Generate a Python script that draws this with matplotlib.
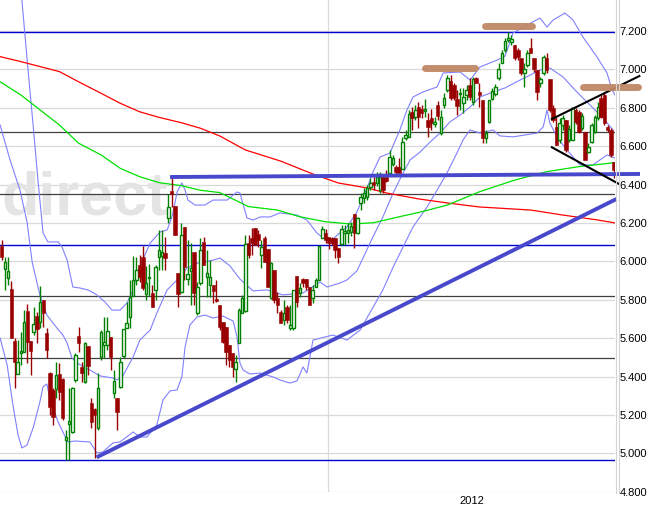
import matplotlib
matplotlib.use("Agg")
import matplotlib.pyplot as plt
from matplotlib.patches import Rectangle
from matplotlib.lines import Line2D

# ---------------- data (index points, DAX daily) ----------------
opens = [6080,5960,5913,5856,5585,5413,5523,5528,5741,5585,
5632,5715,5684,5799,5627,5418,5330,5335,5413,5387,
5069,5153,5111,5382,5611,5450,5372,5559,5262,5231,
5132,5502,5564,5564,5606,5314,5288,5346,5507,5653,
5710,5819,5903,5981,6023,5830,5913,5835,5851,6023,
6028,6043,6226,6366,6288,5939,5840,6179,5908,5950,
6049,5731,5887,6101,5918,5877,5877,5804,5773,5684,
5658,5564,5523,5439,5575,5731,5741,6095,6122,6174,
6142,6033,6122,6064,5809,5955,5809,5736,5694,5762,
5653,5653,5924,5835,5908,5908,5866,5809,5866,5903,
6122,6148,6127,6122,6122,6069,6090,6148,6148,6153,
6246,6148,6304,6330,6335,6387,6413,6408,6371,6439,
6439,6460,6507,6491,6491,6481,6642,6648,6778,6752,
6804,6793,6783,6736,6746,6715,6814,6668,6814,6892,
6939,6918,6845,6871,6825,6866,6918,6830,6955,6882,
6840,6642,6726,6845,6871,6955,7033,7100,7153,7142,
7127,7100,7059,6981,7022,7111,7059,6996,6929,6981,
7059,6950,6799,6700,6632,6710,6736,6632,6632,6788,
6778,6694,6674,6569,6621,6674,6746,6851,6866,6700,
6684,6517]

closes = [6023,5996,5950,5601,5476,5476,5533,5684,5580,5533,
5674,5648,5788,5731,5538,5241,5189,5408,5320,5184,
5085,5168,5340,5512,5575,5418,5575,5455,5163,5200,
5340,5632,5580,5637,5502,5377,5215,5476,5648,5679,
5814,5903,5955,5918,5861,5887,5918,5762,5970,6059,
6049,6017,6283,6351,6137,5830,6137,5970,5934,5965,
5835,5866,6059,5981,5939,5918,5846,5793,5658,5580,
5528,5486,5450,5476,5746,5809,6090,6033,6095,6085,
6111,6075,5996,5866,5991,5799,5773,5679,5731,5694,
5668,5851,5788,5861,5887,5866,5773,5851,5903,6080,
6168,6111,6095,6095,6059,6023,6168,6158,6163,6184,
6148,6226,6335,6356,6382,6408,6398,6439,6439,6371,
6418,6543,6538,6465,6460,6621,6658,6767,6746,6788,
6752,6772,6793,6700,6720,6726,6757,6752,6851,6955,
6851,6851,6809,6877,6856,6892,6856,6950,6929,6866,
6642,6668,6840,6887,6908,7002,7085,7147,7163,7158,
7059,7064,6981,7002,7085,7085,7002,6882,6950,7064,
6996,6788,6736,6606,6720,6746,6580,6689,6799,6726,
6674,6757,6528,6595,6710,6752,6804,6752,6720,6684,
6554,6476]

highs = [6111,6023,6023,5898,5601,5590,5632,5746,5778,5585,
5762,5736,5871,5799,5653,5424,5340,5476,5470,5392,
5122,5340,5346,5523,5658,5476,5580,5559,5288,5236,
5418,5642,5710,5710,5606,5434,5288,5502,5648,5788,
5903,6028,6023,6033,6080,5976,5986,5877,5981,6163,
6163,6127,6351,6439,6288,5939,6200,6179,6111,6095,
6049,5892,6122,6127,6059,6007,5877,5903,5773,5684,
5658,5564,5523,5512,5757,5825,6137,6137,6174,6174,
6163,6111,6132,6064,5996,5955,5840,5746,5799,5773,
5773,5851,5924,5887,5913,5908,5866,5877,5913,6080,
6184,6168,6127,6127,6122,6069,6189,6189,6200,6205,
6246,6231,6356,6382,6398,6434,6439,6465,6465,6450,
6476,6580,6554,6501,6538,6648,6684,6788,6804,6814,
6830,6814,6845,6772,6793,6752,6835,6788,6877,6970,
6970,6929,6892,6903,6903,6918,6955,6960,6960,6929,
6840,6684,6840,6903,6924,7033,7100,7163,7194,7179,
7127,7111,7059,7033,7100,7163,7059,6996,6960,7075,
7085,6950,6814,6752,6746,6762,6736,6710,6804,6799,
6788,6772,6674,6616,6720,6762,6830,6866,6877,6710,
6694,6517]

lows = [6007,5851,5877,5601,5340,5413,5460,5528,5470,5408,
5616,5575,5653,5658,5497,5200,5148,5288,5278,5174,
4965,4966,5106,5372,5528,5372,5366,5408,5132,4976,
5122,5486,5497,5538,5434,5288,5122,5340,5497,5653,
5653,5819,5877,5892,5851,5799,5819,5762,5799,5955,
5955,5955,6200,6283,6137,5762,5835,5903,5877,5773,
5773,5720,5877,5981,5814,5814,5783,5788,5642,5575,
5460,5450,5398,5372,5575,5731,5736,6017,6033,6085,
6075,5965,5996,5866,5804,5783,5731,5679,5668,5679,
5642,5642,5762,5814,5866,5851,5773,5783,5866,5903,
6122,6095,6064,6085,6017,5991,6085,6085,6095,6132,
6069,6142,6267,6304,6319,6371,6371,6392,6356,6356,
6413,6460,6496,6450,6460,6481,6632,6648,6684,6736,
6694,6746,6752,6648,6684,6700,6736,6658,6799,6882,
6840,6840,6762,6788,6772,6840,6840,6814,6929,6804,
6616,6616,6720,6840,6861,6944,7033,7090,7142,7127,
7048,7048,6970,6908,7012,7085,6986,6840,6908,6970,
6981,6778,6726,6606,6616,6684,6569,6621,6632,6715,
6668,6684,6528,6564,6616,6668,6736,6746,6710,6674,
6543,6434]

# moving averages (read at sample positions: candle index, value)
ma200_i = [-0.5, 6, 12, 18, 24, 31, 37, 43, 49, 56, 62, 68, 76, 87, 97, 105, 114, 120, 130, 139, 149, 165, 175, 186, 191.3]
ma200_v = [7066, 7040, 7014, 6988, 6935, 6875, 6823, 6779, 6750, 6722, 6693, 6653, 6580, 6522, 6455, 6408, 6382, 6356, 6325, 6304, 6283, 6267, 6241, 6215, 6200]

ma100_i = [-0.5, 6, 12, 18, 24, 31, 37, 43, 49, 56, 62, 68, 77, 86, 93, 101, 109, 116, 124, 131, 139, 149, 160, 170, 180, 191.3]
ma100_v = [6935, 6866, 6788, 6710, 6615, 6554, 6484, 6441, 6410, 6394, 6370, 6358, 6285, 6267, 6232, 6206, 6194, 6201, 6232, 6258, 6293, 6362, 6423, 6467, 6493, 6514]

# Bollinger bands
bb_up_i = [-0.5, 6.3, 7.2, 8.5, 9.8, 11.3, 12.9, 14.4, 17.6, 18.8, 20.4, 22.2, 24.4, 26.9, 29.7, 32.2, 34.4, 36.9, 39.1,
           41.0, 42.2, 46.3, 49.4, 51.6, 53.1, 54.1, 54.7, 56.2, 57.2, 58.1, 60.3, 63.4, 65.9, 70.3, 73.4, 74.3, 76.5,
           78.4, 80.6, 83.7, 86.8, 92.1, 95.2, 98.3, 100.2, 103.0, 105.5, 107.7, 110.8, 114.0, 115.8, 118.0, 121.1,
           124.2, 126.4, 128.3, 131.4, 135.8, 137.7, 143.0, 146.1, 149.2, 154.5, 157.0, 159.5, 163.9, 167.9, 170.1,
           172.0, 175.7, 178.2, 181.3, 185.7, 188.8, 190.4, 191.3]
bb_up_v = [8650, 7361, 7189, 6944, 6710, 6424, 6148, 6101, 6101, 6075, 6007, 5866, 5861, 5851, 5825, 5788, 5746, 5746, 5783,
           5851, 5939, 6095, 6153, 6163, 6231, 6309, 6361, 6408, 6371, 6319, 6293, 6293, 6319, 6319, 6361, 6356, 6226,
           6215, 6231, 6231, 6252, 6241, 6215, 6148, 6122, 6111, 6148, 6179, 6257, 6382, 6465, 6543, 6564,
           6684, 6788, 6856, 6882, 6908, 6981, 6986, 6944, 7012, 7048, 7069, 7189, 7231, 7267, 7220,
           7257, 7293, 7257, 7168, 7064, 6981, 6892, 6866]

bb_mid_i = [-0.5, 2.6, 5.7, 7.9, 9.5, 11.9, 14.1, 17.2, 19.1, 20.4, 21.9, 23.5, 27.5, 30.7, 34.7, 36.0, 37.8, 41.0, 43.1,
            46.3, 48.4, 51.6, 55.6, 57.8, 61.9, 65.0, 68.1, 71.2, 74.3, 78.4, 82.8, 87.7, 94.0, 99.3, 101.5, 105.5,
            107.7, 110.8, 115.8, 118.9, 122.1, 125.2, 127.4, 130.5, 133.6, 136.7, 139.8, 143.0, 146.1, 149.2, 153.3,
            157.0, 161.7, 167.9, 171.0, 175.1, 179.4, 183.5, 187.6, 190.7]
bb_mid_v = [6710, 6528, 6371, 6205, 5996, 5825, 5720, 5653, 5616, 5575, 5497, 5470, 5434, 5403, 5392, 5382, 5403, 5502, 5590,
            5642, 5731, 5851, 5918, 5965, 5996, 6002, 6017, 5976, 5908, 5846, 5851, 5825, 5835, 5892, 5866, 5887,
            5903, 5950, 6127, 6231, 6356, 6460, 6528, 6569, 6621, 6668, 6726, 6762, 6804, 6856, 6882,
            6903, 6944, 6996, 7007, 6960, 6882, 6814, 6746, 6684]

bb_low_i = [-0.5, 1.7, 3.5, 5.1, 6.3, 7.9, 9.8, 11.9, 12.9, 14.1, 15.1, 17.6, 19.7, 20.7, 22.9, 27.5, 29.7, 31.6, 34.7,
            36.9, 41.0, 43.1, 45.3, 48.4, 50.3, 52.5, 54.7, 56.2, 57.2, 58.7, 60.9, 63.4, 65.9, 69.0, 72.2, 73.4, 74.3,
            75.3, 77.4, 80.6, 84.6, 86.8, 89.9, 92.1, 94.0, 95.2, 97.1, 103.3, 107.7, 111.8, 118.9, 122.1, 125.2,
            128.3, 132.7, 135.8, 138.9, 142.0, 143.9, 146.1, 149.2, 153.3, 155.4, 159.5, 167.0, 168.9, 170.1, 171.0,
            173.2, 176.3, 180.4, 184.4, 188.8, 191.3]
bb_low_v = [5601, 5460, 5252, 5095, 5028, 5043, 5132, 5267, 5346, 5361, 5278, 5163, 5090, 5059, 5064, 5059, 5002, 5007, 5054,
            5059, 5111, 5085, 5085, 5148, 5278, 5325, 5330, 5398, 5554, 5668, 5710, 5720, 5705, 5715, 5689, 5606, 5471,
            5434, 5413, 5418, 5398, 5382, 5366, 5377, 5450, 5418, 5590, 5616, 5590, 5642, 5851, 5970, 6075,
            6179, 6283, 6371, 6460, 6564, 6632, 6684, 6668, 6684, 6653, 6648, 6668, 6700, 6788, 6720,
            6648, 6580, 6502, 6502, 6554, 6538]

# horizontal levels
blue_levels = [7194, 6083, 4965]
gray_levels = [6672, 6349, 5819, 5495]

# hand-drawn analysis lines (index, value)
support_x, support_y = [52.5, 199.1], [6439, 6455]
trend_x, trend_y = [29.6, 191.8], [4979, 6325]
chan_top_x, chan_top_y = [171.6, 198.9], [6741, 6965]
chan_bot_x, chan_bot_y = [171.6, 192.5], [6594, 6403]
tops_x0 = [132.0, 150.7, 181.4]
tops_x1 = [147.6, 165.3, 198.6]
tops_y = [7005, 7226, 6909]

year_start = 101.8
year_label = "2012"
watermark = "direct"
yticks = list(range(4800, 7201, 200))
ymin, ymax = 4800, 7361
xmin, xmax = -0.53, 191.3

# ---------------- figure ----------------
W, H = 652, 515
fig = plt.figure(figsize=(W / 100, H / 100), dpi=100)
ax = fig.add_axes([0, 23.3 / H, 615 / W, 491.7 / H])
ax.set_xlim(xmin, xmax)
ax.set_ylim(ymin, ymax)
for s in ax.spines.values():
    s.set_visible(False)

# grid
for v in yticks:
    ax.axhline(v, color="#d9d9d9", lw=0.9, zorder=0.5)
ax.axvline(year_start, color="#d9d9d9", lw=0.9, zorder=0.5)

# watermark
ax.text(1 / 615, 1 - 199 / 491.7, watermark, transform=ax.transAxes,
        ha="left", va="center", fontsize=44, fontweight="bold",
        family="Liberation Sans", color="#e4e4e4", zorder=0.6)

# levels
for v in gray_levels:
    ax.axhline(v, color="#404040", lw=0.9, zorder=1)
for v in blue_levels:
    ax.axhline(v, color="#0000d0", lw=1.0, zorder=1)

# indicators
band_kw = dict(color="#8080ff", lw=0.8, zorder=2.5)
ax.plot(bb_up_i, bb_up_v, **band_kw)
ax.plot(bb_mid_i, bb_mid_v, **band_kw)
ax.plot(bb_low_i, bb_low_v, **band_kw)
ax.plot(ma200_i, ma200_v, color="#ff0000", lw=0.9, zorder=2.6)
ax.plot(ma100_i, ma100_v, color="#00e000", lw=0.9, zorder=2.6)

# candles
red, green = "#990000", "#008000"
for i, (o, h, l, c) in enumerate(zip(opens, highs, lows, closes)):
    up = c >= o
    col = green if up else red
    ax.plot([i, i], [l, h], color=col, lw=1.0, zorder=3, solid_capstyle="butt")
    bot = min(o, c)
    ht = max(abs(c - o), 5)
    if up:
        ax.add_patch(Rectangle((i - 0.4, bot), 0.8, ht, facecolor="white",
                               edgecolor=col, lw=1.0, zorder=3.1))
    else:
        ax.add_patch(Rectangle((i - 0.55, bot), 1.1, ht, facecolor=col,
                               edgecolor=col, lw=0.4, zorder=3.1))

# analysis drawings
ax.plot(support_x, support_y, color="#4848cc", lw=2.8, zorder=5, clip_on=False, solid_capstyle="butt")
ax.plot(trend_x, trend_y, color="#4848cc", lw=2.8, zorder=5, clip_on=False, solid_capstyle="butt")
ax.plot(chan_top_x, chan_top_y, color="black", lw=1.5, zorder=5, clip_on=False)
ax.plot(chan_bot_x, chan_bot_y, color="black", lw=1.5, zorder=5, clip_on=False)
for x0, x1, y in zip(tops_x0, tops_x1, tops_y):
    ax.plot([x0, x1], [y, y], color="#c08866", lw=5, alpha=0.95, zorder=5,
            solid_capstyle="round", clip_on=False)

# axes ticks on the right
ax.yaxis.tick_right()
ax.set_yticks(yticks)
ax.set_yticklabels([f"{v // 1000}.{v % 1000:03d}" for v in yticks],
                   fontsize=8, family="Liberation Sans")
ax.tick_params(axis="y", length=0, pad=3.5)
ax.set_xticks([])

# year label centred in the year segment
ax.text((year_start + xmax) / 2, -0.018, year_label, transform=ax.get_xaxis_transform(),
        ha="center", va="center", fontsize=8, family="Liberation Sans")

# right-side frame lines
for xp in (615.5, 619):
    fig.add_artist(Line2D([xp / W, xp / W], [22 / H, 1], transform=fig.transFigure,
                          color="#d4d4d4", lw=0.8))

fig.savefig("out.png", dpi=100)
